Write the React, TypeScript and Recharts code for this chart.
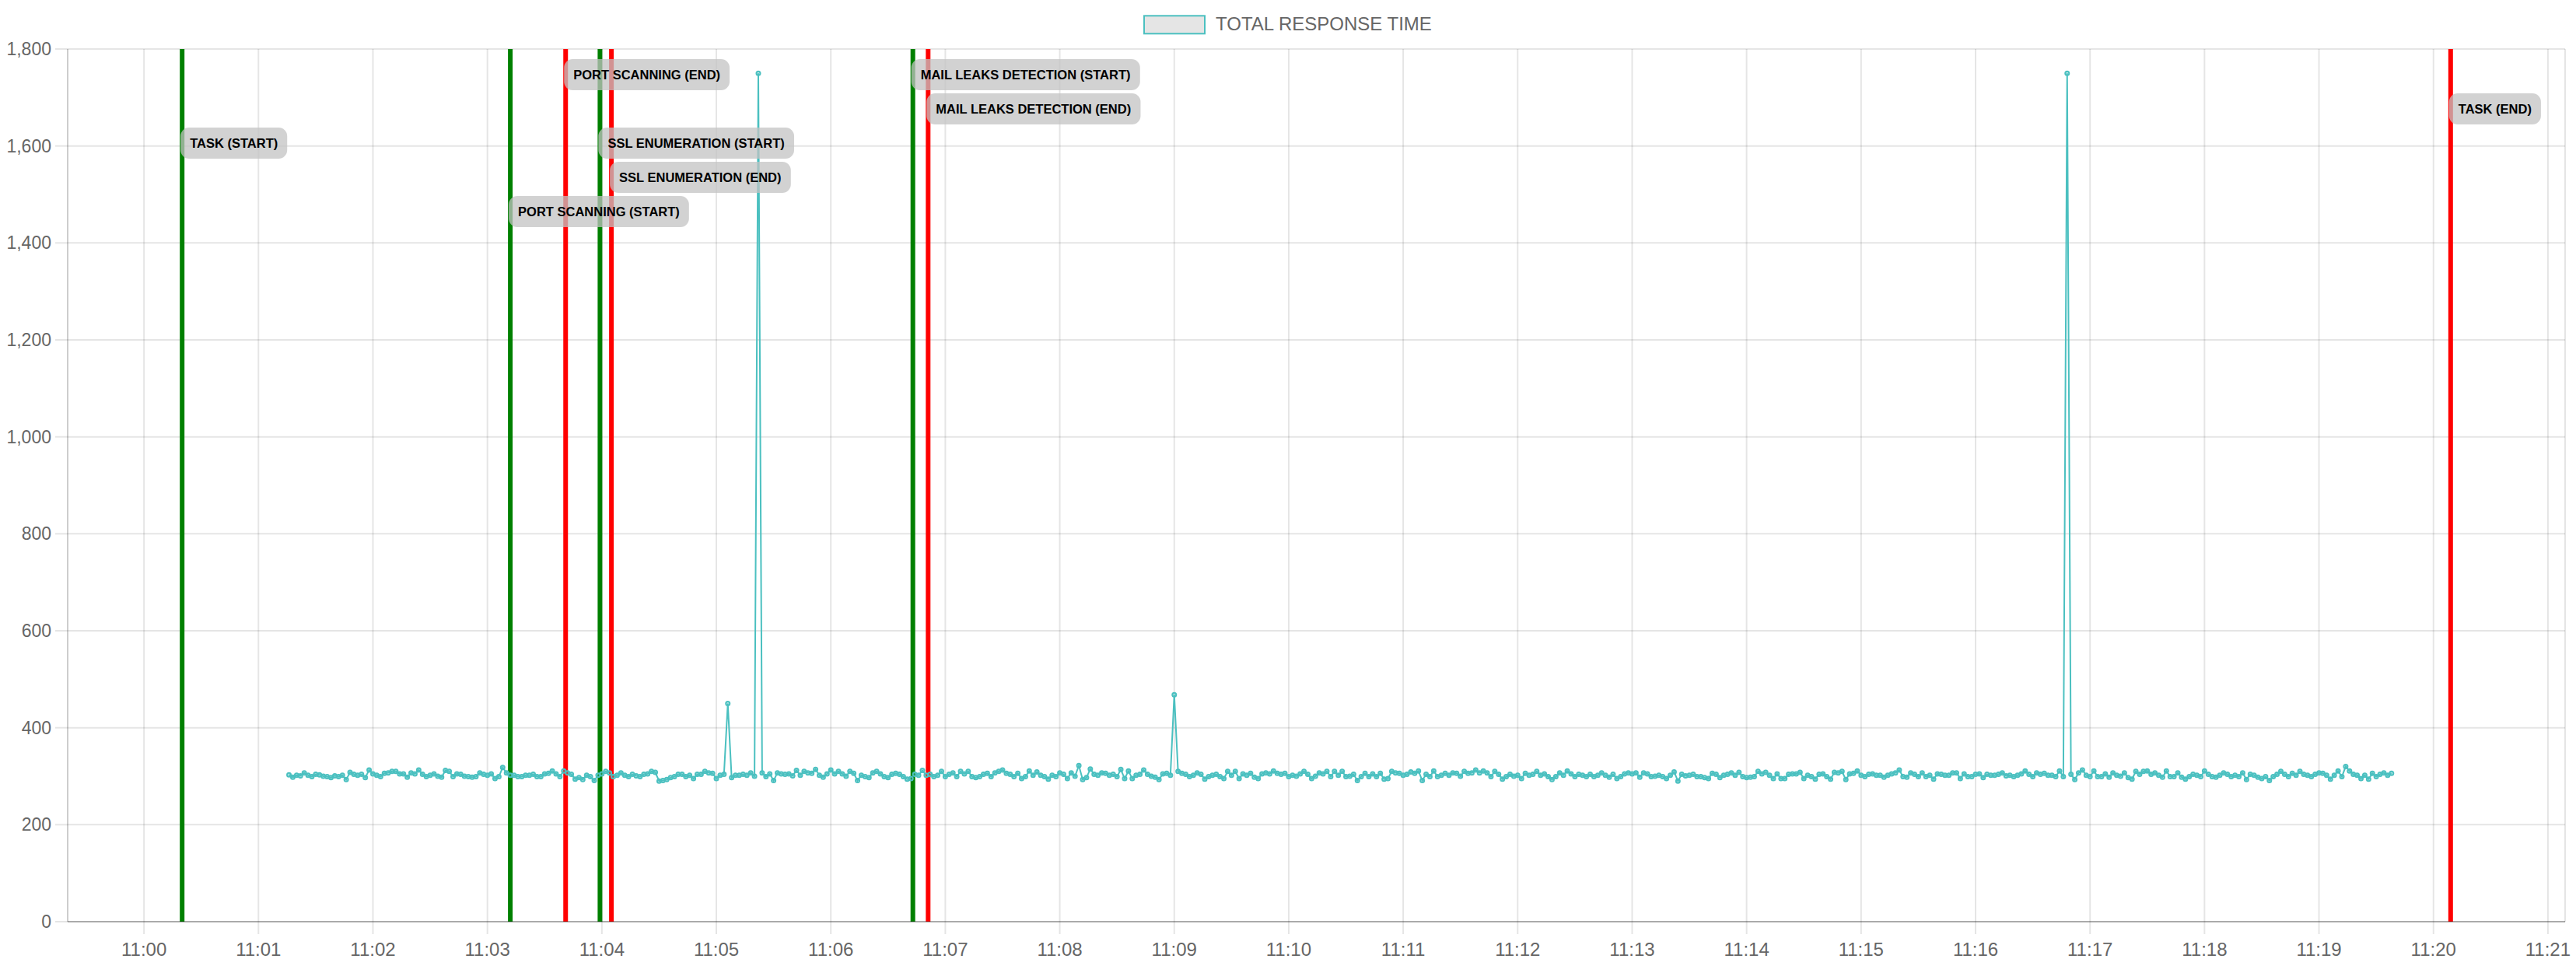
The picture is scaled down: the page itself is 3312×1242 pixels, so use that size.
import React from 'react';
import { LineChart, Line, XAxis, YAxis, CartesianGrid, ReferenceLine } from 'recharts';

// ---------------- data ----------------
const SERIES_NAME = 'TOTAL RESPONSE TIME';
const STEP_SECONDS = 2;

// 11:01:16 – 11:05:04
const SEG_A_START = '11:01:16';
const SEG_A = [
  303, 298, 302, 301, 307, 302, 299, 304, 303, 300,
  299, 297, 301, 299, 302, 293, 308, 304, 302, 304,
  297, 313, 305, 302, 299, 306, 307, 310, 310, 305,
  305, 298, 307, 305, 313, 304, 299, 302, 305, 300,
  298, 312, 310, 299, 305, 304, 300, 299, 298, 299,
  307, 304, 302, 305, 295, 299, 318, 307, 302, 302,
  299, 299, 302, 302, 304, 299, 299, 305, 306, 311,
  305, 299, 311, 307, 304, 294, 297, 293, 302, 299,
  291, 302, 305, 310, 307, 299, 302, 307, 302, 299,
  304, 301,
  299, 304, 305, 310, 308, 290, 291, 293, 297, 299,
  304, 304, 299, 302, 295, 304, 304, 310, 307, 306,
  295, 302, 304,
];

// 11:05:08 – 11:05:20
const SEG_B_START = '11:05:08';
const SEG_B = [297, 302, 302, 304, 302, 307, 300];

// 11:05:24 – 11:08:58
const SEG_C_START = '11:05:24';
const SEG_C = [
  307, 299, 305, 291, 307, 305, 304, 305, 301, 312,
  302, 310, 307, 306, 314, 302, 298, 305, 313, 305,
  310, 305, 300, 310, 306, 291, 302, 299, 297, 307,
  310, 305, 299, 297, 304, 306, 304, 299, 294, 295,
  304, 302, 312, 302, 304, 299, 302, 310, 299, 304,
  307, 299, 310, 305, 310, 299, 297, 299, 304, 306,
  299, 307, 310, 313, 306, 304, 299, 306, 295, 299,
  311, 302, 309, 302, 299, 294, 302, 299, 307, 304,
  295, 307, 300, 322, 293, 297, 315, 304, 302, 307,
  306, 302, 304, 299, 314, 295, 311, 295, 302, 304,
  313, 304, 300, 298, 293, 305, 306, 302,
];

// 11:09:02 – 11:16:46
const SEG_D_START = '11:09:02';
const SEG_D = [
  310, 306, 304, 299, 302, 307, 304, 294, 299, 302,
  304, 299, 295, 310, 302, 310, 295, 305, 302, 306,
  298, 295, 305, 307, 305, 311, 306, 304, 306, 299,
  302, 300, 305, 310, 304, 295, 300, 307, 305, 310,
  299, 310, 302,
  310, 299, 300, 304, 291, 299, 306, 299, 305,
  299, 306, 294, 295, 310, 307, 306, 302, 304, 309,
  306, 311, 291, 304, 299, 311, 299, 302, 306, 302,
  307, 306, 300, 310, 306, 307, 313, 307, 311, 307,
  299, 310, 304, 294, 299, 304, 300, 302, 295, 306,
  302, 304, 310, 302, 305, 299, 293, 299, 307, 302,
  311, 305, 299, 304, 302, 299, 304, 299, 302, 307,
  302, 298, 304, 295, 299, 305, 307, 305, 307, 298,
  307, 305, 299, 300, 302, 299, 295, 302, 309, 290,
  304, 301,
  302, 304, 299, 299, 297, 295, 306, 304, 297, 302,
  304, 307, 302, 308, 299, 297, 298, 299, 310, 305,
  308, 302, 295, 305, 295, 295, 304, 305, 305, 308,
  295, 302, 299, 294, 304, 305, 299, 294, 308, 307,
  310, 293, 305, 306, 311, 302, 299, 304, 305, 302,
  302, 298, 302, 305, 307, 313, 299, 298, 307, 304,
  299, 307, 299, 302, 294, 305, 304, 302, 302, 307,
  307, 295, 305, 299, 299, 304, 305, 297, 304, 302,
  302, 304, 307, 301, 302, 299, 302, 305, 311, 304,
  299, 307,
  304, 306, 302, 302, 299, 311, 299,
];

// 11:16:50 – 11:19:38
const SEG_E_START = '11:16:50';
const SEG_E = [
  304, 293, 307, 313, 302, 299, 311, 299, 299, 305,
  298, 307, 302, 300, 307, 297, 294, 310, 304, 310,
  311, 304, 307, 302, 298, 311, 299, 299, 307, 298,
  294, 299, 304, 302, 299, 311, 304, 299, 298, 302,
  307, 304, 299, 302, 299, 307, 293, 304, 302, 298,
  295, 299, 291, 299, 304, 310, 304, 299, 306, 302,
  310, 304, 302, 299, 304, 307, 306, 302, 294, 302,
  311, 299, 320, 311, 304, 302, 295, 302, 294, 306,
  299, 304, 307, 302, 306,
];

// isolated spikes
const SPIKE_TIMES = ['11:05:06', '11:05:22', '11:09:00', '11:16:48'];
const SPIKE_VALUES = [450, 1750, 468, 1750];

// annotations
const EVENT_LABELS = [
  'TASK (START)',
  'PORT SCANNING (START)',
  'PORT SCANNING (END)',
  'SSL ENUMERATION (START)',
  'SSL ENUMERATION (END)',
  'MAIL LEAKS DETECTION (START)',
  'MAIL LEAKS DETECTION (END)',
  'TASK (END)',
];
const EVENT_TIMES = ['11:00:20', '11:03:12', '11:03:41', '11:03:59', '11:04:05', '11:06:43', '11:06:51', '11:20:09'];

// axes
const X_TICKS = [
  '11:00', '11:01', '11:02', '11:03', '11:04', '11:05', '11:06', '11:07', '11:08', '11:09', '11:10',
  '11:11', '11:12', '11:13', '11:14', '11:15', '11:16', '11:17', '11:18', '11:19', '11:20', '11:21',
];
const X_MIN = '10:59:20';
const X_MAX = '11:21:09';
const Y_TICKS = [0, 200, 400, 600, 800, 1000, 1200, 1400, 1600, 1800];

// ---------------- layout (not data) ----------------
const LABEL_ROWS = [2, 4, 0, 2, 3, 0, 1, 1];

const W = 3312;
const H = 1242;
const FONT = '"Liberation Sans", Arial, Helvetica, sans-serif';
const TEAL = '#4bc0c0';
const GRID = 'rgba(0,0,0,0.1)';

function toSec(s: string): number {
  const p = s.split(':').map(Number);
  return p[0] * 3600 + p[1] * 60 + (p[2] || 0);
}

function segment(start: string, values: number[]) {
  const t0 = toSec(start);
  return values.map((v, i) => ({ t: t0 + i * STEP_SECONDS, v }));
}

const DATA = [
  ...segment(SEG_A_START, SEG_A),
  ...segment(SEG_B_START, SEG_B),
  ...segment(SEG_C_START, SEG_C),
  ...segment(SEG_D_START, SEG_D),
  ...segment(SEG_E_START, SEG_E),
  ...SPIKE_TIMES.map((s, i) => ({ t: toSec(s), v: SPIKE_VALUES[i] })),
].sort((a, b) => a.t - b.t);

const X_TICK_SEC = X_TICKS.map(toSec);
const tickLabel = (v: number) => {
  const i = X_TICK_SEC.indexOf(v);
  return i >= 0 ? X_TICKS[i] : '';
};

let ctx: CanvasRenderingContext2D | null = null;
function measure(text: string, font: string): number {
  if (!ctx) {
    const c = document.createElement('canvas');
    ctx = c.getContext('2d');
  }
  if (!ctx) return text.length * 10;
  ctx.font = font;
  return ctx.measureText(text).width;
}

function makeLabel(text: string, row: number) {
  return (props: any) => {
    const vb = props.viewBox || {};
    const x = vb.x;
    const top = vb.y;
    if (x == null || top == null) return null;
    const w = measure(text, `bold 16.5px ${FONT}`) + 24;
    const y = top + 13 + row * 44;
    return (
      <g>
        <rect x={x - 2} y={y} width={w} height={40} rx={11} ry={11} fill="rgba(195,195,195,0.75)" />
        <text
          x={x - 2 + 12}
          y={y + 20}
          dominantBaseline="central"
          fontFamily={FONT}
          fontSize={16.5}
          fontWeight="bold"
          fill="#000"
        >
          {text}
        </text>
      </g>
    );
  };
}

export default function App() {
  return (
    <div style={{ position: 'absolute', left: 0, top: 0, width: W, height: H, background: '#fff', fontFamily: FONT }}>
      <LineChart
        width={W}
        height={H}
        data={DATA}
        margin={{ top: 63, right: 14, bottom: 0, left: 0 }}
        style={{ fontFamily: FONT }}
      >
        <CartesianGrid stroke={GRID} strokeWidth={2} />
        <XAxis
          dataKey="t"
          type="number"
          domain={[toSec(X_MIN), toSec(X_MAX)]}
          ticks={X_TICK_SEC}
          interval={0}
          tickFormatter={tickLabel}
          height={57}
          tickSize={16}
          tickMargin={11}
          axisLine={{ stroke: 'rgba(0,0,0,0.25)', strokeWidth: 2 }}
          tickLine={{ stroke: GRID, strokeWidth: 2 }}
          tick={{ fill: '#666', fontSize: 24, fontFamily: FONT }}
        />
        <YAxis
          type="number"
          domain={[0, 1800]}
          ticks={Y_TICKS}
          interval={0}
          width={87}
          tickSize={16}
          tickMargin={5}
          tickFormatter={(v: number) => v.toLocaleString('en-US')}
          axisLine={{ stroke: GRID, strokeWidth: 2 }}
          tickLine={{ stroke: GRID, strokeWidth: 2 }}
          tick={{ fill: '#666', fontSize: 23, fontFamily: FONT }}
        />
        <Line
          type="linear"
          dataKey="v"
          name={SERIES_NAME}
          stroke={TEAL}
          strokeWidth={2}
          dot={{ r: 2.5, stroke: TEAL, strokeWidth: 2, fill: 'rgba(75,192,192,0.35)' }}
          activeDot={false}
          isAnimationActive={false}
        />
        {EVENT_LABELS.map((lab, i) => (
          <ReferenceLine
            key={'l' + i}
            x={toSec(EVENT_TIMES[i])}
            stroke={lab.endsWith('(START)') ? '#008000' : '#ff0000'}
            strokeWidth={6}
          />
        ))}
        {EVENT_LABELS.map((lab, i) => (
          <ReferenceLine
            key={'t' + i}
            x={toSec(EVENT_TIMES[i])}
            stroke="none"
            label={makeLabel(lab, LABEL_ROWS[i])}
          />
        ))}
      </LineChart>
      <svg width={W} height={60} style={{ position: 'absolute', left: 0, top: 0, pointerEvents: 'none' }}>
        <rect x={1471} y={20.3} width={78} height={23} fill="rgba(0,0,0,0.1)" stroke={TEAL} strokeWidth={2} />
        <text x={1563} y={39.2} fontFamily={FONT} fontSize={24} fill="#666">
          {SERIES_NAME}
        </text>
      </svg>
    </div>
  );
}
